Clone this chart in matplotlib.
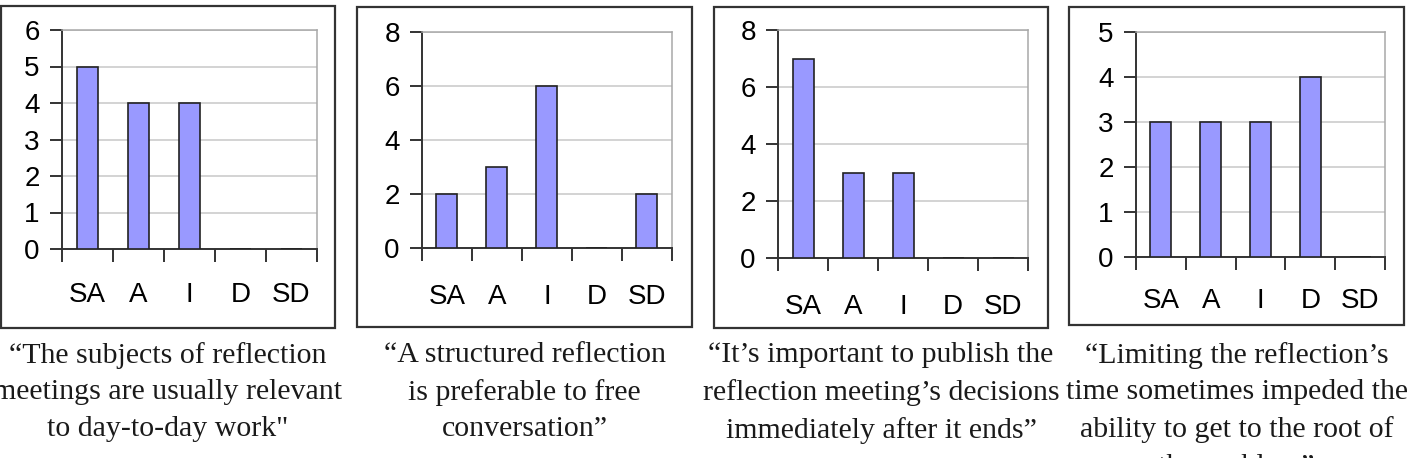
import matplotlib.pyplot as plt
from matplotlib.patches import Rectangle

W, H = 1411, 458

categories = ["SA", "A", "I", "D", "SD"]

counts_relevant = [5, 4, 4, 0, 0]
counts_structured = [2, 3, 6, 0, 2]
counts_publish = [7, 3, 3, 0, 0]
counts_limiting = [3, 3, 3, 4, 0]

caption_relevant = "\u201cThe subjects of reflection\nmeetings are usually relevant\nto day-to-day work\""
caption_structured = "\u201cA structured reflection\nis preferable to free\nconversation\u201d"
caption_publish = "\u201cIt\u2019s important to publish the\nreflection meeting\u2019s decisions\nimmediately after it ends\u201d"
caption_limiting = "\u201cLimiting the reflection\u2019s\ntime sometimes impeded the\nability to get to the root of\nthe problem\u201d"

ymax_list = [6, 8, 8, 5]
ystep_list = [1, 2, 2, 1]

# pixel layout: (box x0, box x1, box y0, box y1, plot x0, plot x1, plot y0, plot y1, xlabel pad)
layout = [
    (1, 335, 6, 328, 62, 317, 30, 249, 24),
    (357, 692, 7, 327, 422, 672, 32, 248, 26),
    (714, 1048, 7, 328, 778, 1028, 30, 258, 26),
    (1069, 1404, 7, 325, 1136, 1385, 32, 257, 22),
]

data = [counts_relevant, counts_structured, counts_publish, counts_limiting]
captions = [caption_relevant, caption_structured, caption_publish, caption_limiting]

fig = plt.figure(figsize=(W / 100, H / 100), dpi=100)

def fx(px):
    return px / W

def fy(py):
    return 1 - py / H

for vals, cap, ymax, ystep, lay in zip(data, captions, ymax_list, ystep_list, layout):
    bx0, bx1, by0, by1, px0, px1, py0, py1, xpad = lay
    # outer frame
    fig.patches.append(Rectangle((fx(bx0), fy(by1)), fx(bx1 - bx0), (by1 - by0) / H,
                                 transform=fig.transFigure, fill=False,
                                 edgecolor="#333333", linewidth=1.6))
    ax = fig.add_axes([fx(px0), fy(py1), fx(px1 - px0), (py1 - py0) / H])
    x = list(range(len(categories)))
    ax.bar(x, vals, width=0.42, color="#9999ff", edgecolor="#222222", linewidth=1.2, zorder=3)
    ax.set_xlim(-0.5, len(categories) - 0.5)
    ax.set_ylim(0, ymax)
    ax.set_yticks(range(0, ymax + 1, ystep))
    ax.yaxis.grid(True, color="#c8c8c8", linewidth=1.1)
    ax.set_axisbelow(True)

    # tick marks between categories, labels at centres
    ax.set_xticks([i - 0.5 for i in range(len(categories) + 1)])
    ax.set_xticklabels([])
    ax.set_xticks(x, minor=True)
    ax.set_xticklabels(categories, minor=True, fontsize=20, family="Liberation Sans")
    ax.tick_params(axis="x", which="major", length=9, width=1.4, color="#333333", direction="out")
    ax.tick_params(axis="x", which="minor", length=0, pad=xpad)
    ax.tick_params(axis="y", length=9, width=1.4, color="#333333", pad=7, labelsize=20)
    for lab in ax.get_yticklabels():
        lab.set_family("Liberation Sans")

    for s in ["left", "bottom"]:
        ax.spines[s].set_color("#333333")
        ax.spines[s].set_linewidth(1.4)
    for s in ["top", "right"]:
        ax.spines[s].set_color("#a8a8a8")
        ax.spines[s].set_linewidth(1.1)

    fig.text(fx((bx0 + bx1) / 2), fy(342), cap, ha="center", va="top",
             fontsize=21.5, family="Liberation Serif", color="#1a1a1a", linespacing=1.52)

fig.savefig("out.png", dpi=100)
